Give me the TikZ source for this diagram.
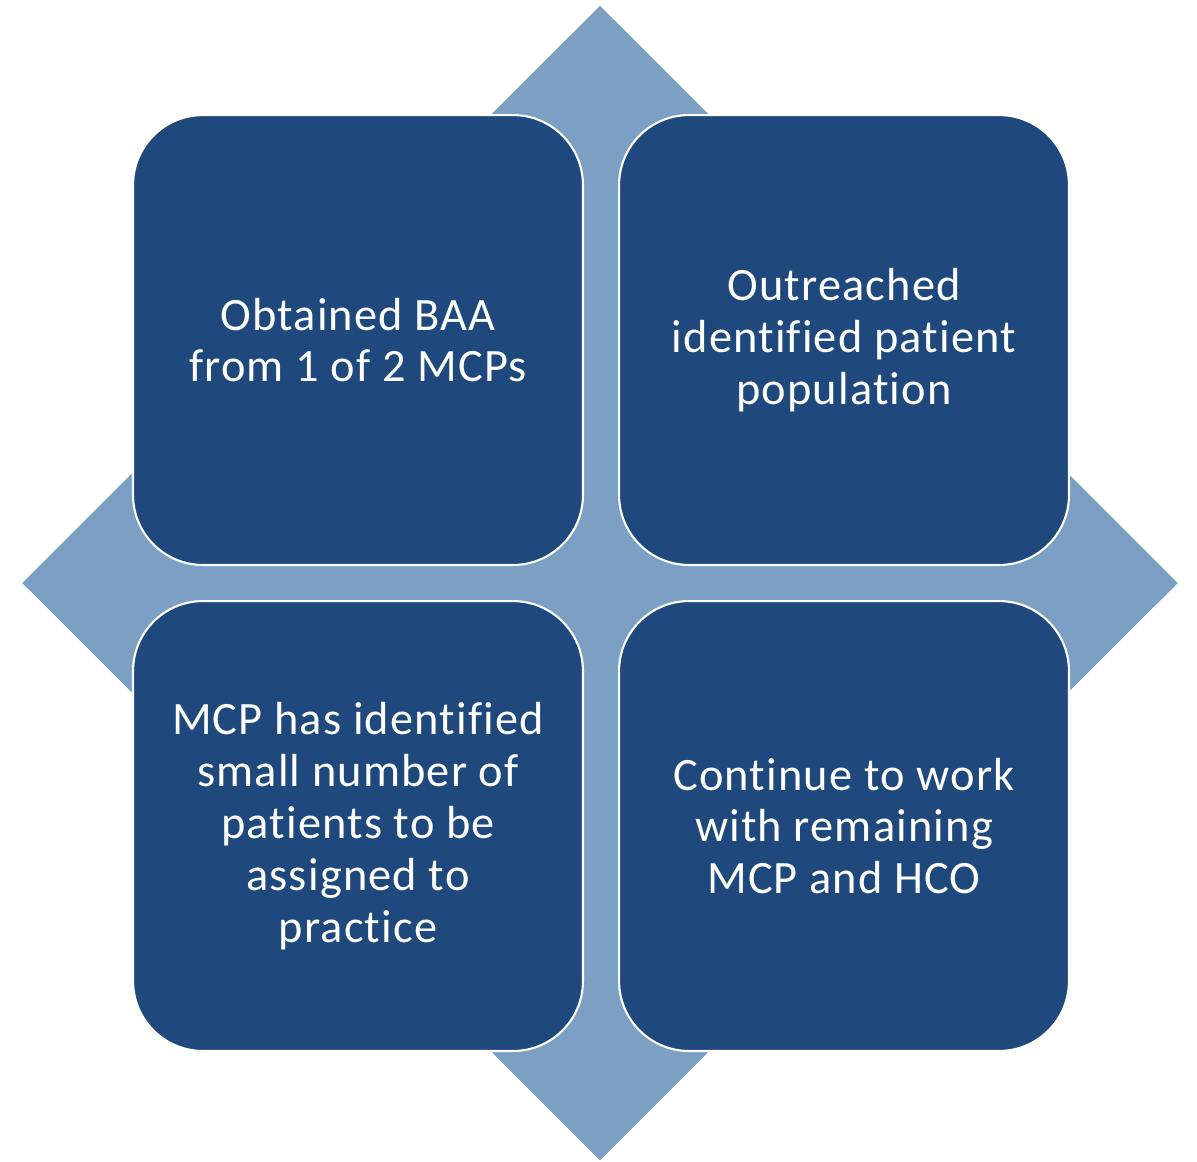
\documentclass[tikz,border=0pt]{standalone}
\usepackage{fontspec}
\setmainfont{Carlito}[Ligatures=NoCommon, LetterSpace=2.5]
\usetikzlibrary{shapes.geometric,positioning}
\definecolor{darkblue}{HTML}{1F497D}
\definecolor{lightblue}{HTML}{7BA0C4}

\begin{document}
\begin{tikzpicture}[
    x=0.02cm, y=-0.02cm,
    node distance=0.68cm,
    backdrop/.style={diamond, fill=lightblue, draw=none, inner sep=0pt, minimum width=23.12cm, minimum height=23.1cm},
    cell/.style={rectangle, draw=white, line width=1.2pt, fill=darkblue, rounded corners=1.4cm, minimum width=9cm, minimum height=9cm, text=white, align=center, font=\fontsize{26.4}{29.5}\selectfont}
]
\useasboundingbox (0,0) rectangle (1197,1161);

\node[backdrop] (back) at (600,583) {};

\node[cell] (obtained) at (358,340) {Obtained BAA\\from 1 of 2 MCPs};
\node[cell, right=of obtained] (outreach) {Outreached\\identified patient\\population};
\node[cell, below=of obtained] (identified) {MCP has identified\\small number of\\patients to be\\assigned to\\practice};
\node[cell, right=of identified] (continue) {Continue to work\\with remaining\\MCP and HCO};

\end{tikzpicture}
\end{document}
